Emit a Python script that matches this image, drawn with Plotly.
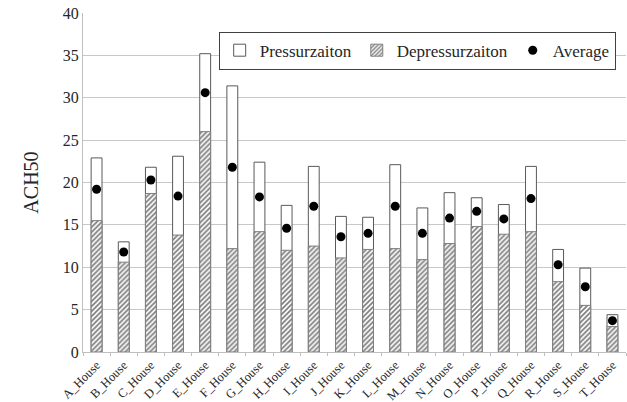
import plotly.graph_objects as go

houses = ["A_House", "B_House", "C_House", "D_House", "E_House", "F_House", "G_House",
          "H_House", "I_House", "J_House", "K_House", "L_House", "M_House", "N_House",
          "O_House", "P_House", "Q_House", "R_House", "S_House", "T_House"]
pressurization = [22.9, 13.0, 21.8, 23.1, 35.2, 31.4, 22.4, 17.3, 21.9, 16.0,
                  15.9, 22.1, 17.0, 18.8, 18.2, 17.4, 21.9, 12.1, 9.9, 4.4]
depressurization = [15.5, 10.6, 18.7, 13.8, 26.0, 12.2, 14.2, 12.0, 12.5, 11.1,
                    12.1, 12.2, 10.9, 12.8, 14.8, 13.9, 14.2, 8.3, 5.5, 3.0]
average = [19.2, 11.8, 20.3, 18.4, 30.6, 21.8, 18.3, 14.6, 17.2, 13.6,
           14.0, 17.2, 14.0, 15.8, 16.6, 15.7, 18.1, 10.3, 7.7, 3.7]
y_ticks = [0, 5, 10, 15, 20, 25, 30, 35, 40]

FONT = "Liberation Serif, DejaVu Serif, serif"

fig = go.Figure()
fig.add_trace(go.Bar(
    x=houses, y=pressurization, name="Pressurzaiton",
    width=0.4,
    marker=dict(color="white", line=dict(color="#595959", width=1)),
))
fig.add_trace(go.Bar(
    x=houses, y=depressurization, name="Depressurzaiton",
    width=0.4,
    marker=dict(color="white", line=dict(color="#7f7f7f", width=1),
                pattern=dict(shape="/", fgcolor="#000000", bgcolor="white",
                             size=3.5, solidity=0.5)),
))
fig.add_trace(go.Scatter(
    x=houses, y=average, name="Average", mode="markers",
    marker=dict(color="black", size=9),
))

fig.update_layout(
    width=627, height=402,
    barmode="overlay",
    plot_bgcolor="white", paper_bgcolor="white",
    margin=dict(l=83, r=1, t=13, b=50, autoexpand=False),
    font=dict(family=FONT, color="#262626"),
    showlegend=True,
    legend=dict(
        orientation="h", x=0.981, y=0.945, xanchor="right", yanchor="top",
        bordercolor="#404040", borderwidth=1, bgcolor="white",
        font=dict(family=FONT, size=17, color="#262626"),
        itemwidth=30, traceorder="normal",
    ),
)
fig.update_xaxes(
    range=[-0.5, len(houses) - 0.5],
    tickangle=-45, tickfont=dict(size=12.5, family=FONT),
    ticks="outside", tickson="boundaries", ticklen=3, tickcolor="#bfbfbf",
    showline=True, linecolor="#bfbfbf", linewidth=1,
    showgrid=False, automargin=False,
)
fig.update_yaxes(
    range=[0, 40], tickvals=y_ticks, tickfont=dict(size=16, family=FONT),
    showgrid=True, gridcolor="#c8c8c8", gridwidth=1,
    showline=True, linecolor="#bfbfbf", linewidth=1,
    ticks="", zeroline=False, automargin=False,
    title=dict(text="ACH50", font=dict(size=20, family=FONT), standoff=18),
)

fig.write_html("out.html", config={"displayModeBar": False},
               post_script="document.body.style.margin='0';")
